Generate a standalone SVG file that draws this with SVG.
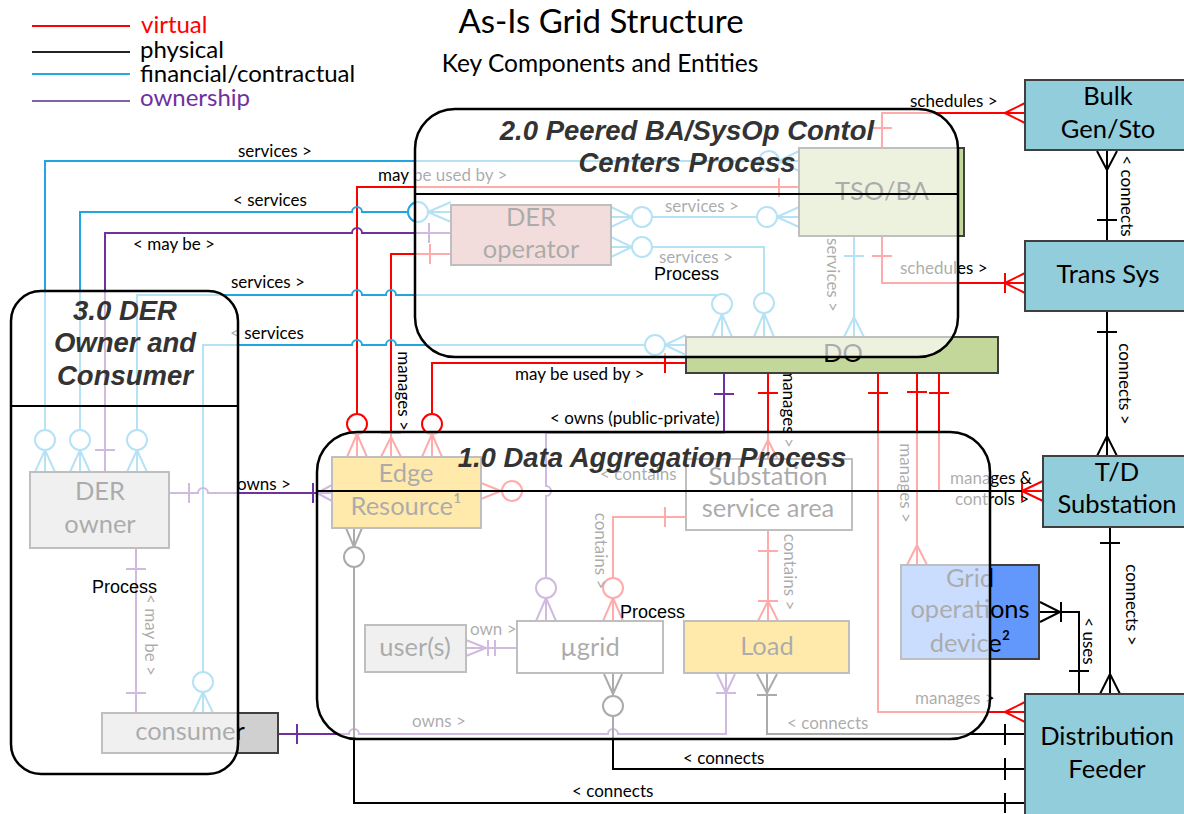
<svg xmlns="http://www.w3.org/2000/svg" width="1184" height="814" viewBox="0 0 1184 814">
<defs><style>
text{font-family:Lato,"Liberation Sans",sans-serif}
.r{stroke:#f00;fill:none;stroke-width:2}
.b{stroke:#22a6df;fill:none;stroke-width:2}
.p{stroke:#7030a0;fill:none;stroke-width:2}
.k{stroke:#000;fill:none;stroke-width:2}
.c{fill:#fff}
.lbl{font-size:17px;fill:#000}
.mid{text-anchor:middle}
.node{stroke:#3f3f3f;stroke-width:2}
.nt{font-size:25.5px;fill:#000;text-anchor:middle}
.proc{fill:#fff;fill-opacity:.67;stroke:#000;stroke-width:2.5}
.pt{font-family:"Liberation Sans",Arial,sans-serif;font-weight:bold;font-style:italic;font-size:27.5px;fill:#333;text-anchor:middle}
.sep{stroke:#000;stroke-width:2}
.pl{font-family:"Liberation Sans",Arial,sans-serif;font-size:18px;fill:#000}
.lg{font-size:24px}
</style></defs>
<rect width="1184" height="814" fill="#fff"/>

<g id="legend">
<line x1="32" y1="26" x2="130" y2="26" stroke="#f00" stroke-width="2"/>
<line x1="32" y1="52" x2="130" y2="52" stroke="#222" stroke-width="2"/>
<line x1="32" y1="74" x2="130" y2="74" stroke="#29a8e0" stroke-width="2"/>
<line x1="32" y1="101" x2="130" y2="101" stroke="#8064a2" stroke-width="2"/>
<text class="lg" x="141" y="33" fill="#f00">virtual</text>
<text class="lg" x="140" y="58" fill="#000">physical</text>
<text class="lg" x="140" y="82" fill="#000">financial/contractual</text>
<text class="lg" x="140" y="106" fill="#7030a0">ownership</text>
</g>
<g id="title">
<text x="601" y="33" font-size="33" class="mid" fill="#000">As-Is Grid Structure</text>
<text x="600" y="72" font-size="24.5" class="mid" fill="#000">Key Components and Entities</text>
</g>

<g id="connectors">
<!-- red / virtual -->
<path class="r" d="M357,414 V187 H799 M779,178 V197 M357,434 L347,457 M357,434 V457 M357,434 L367,457"/>
<circle class="r c" cx="357" cy="424" r="10"/>
<path class="r" d="M451,254 H391 V457 M430,244 V264 M381,433 H401 M391,437 L381,457 M391,437 L401,457"/>
<path class="r" d="M686,363 H432 V414 M665,353 V373 M432,434 L422,457 M432,434 V457 M432,434 L442,457"/>
<circle class="r c" cx="432" cy="424" r="10"/>
<path class="r" d="M768,374 V460 M758,393 H778 M768,440 L758,460 M768,440 L778,460"/>
<path class="r" d="M917,374 V565 M907,392 H927 M917,545 L907,565 M917,545 L927,565"/>
<path class="r" d="M878,374 V712 H1025 M868,393 H888 M1005,712 L1025,702 M1005,712 L1025,722"/>
<path class="r" d="M939,374 V491 H1043 M929,393 H949 M1022,481 V501 M1022,491 L1043,481 M1022,491 L1043,501"/>
<path class="r" d="M481,483 L501,491 L481,499 M481,491 H502 M522,491 H939"/>
<circle class="r c" cx="512" cy="491" r="10"/>
<path class="r" d="M882,148 V113 H1025 M872,128 H892 M1005,113 L1025,103 M1005,113 L1025,123"/>
<path class="r" d="M882,236 V283 H1025 M872,256 H892 M1005,273 V293 M1005,283 L1025,273 M1005,283 L1025,293"/>
<path class="r" d="M686,517 H613 V578 M665,507 V527 M613,598 L603,621 M613,598 V621 M613,598 L623,621"/>
<circle class="r c" cx="613" cy="588" r="10"/>
<path class="r" d="M768,530 V621 M758,551 H778 M758,601 H778 M768,601 L758,621 M768,601 L778,621"/>

<!-- blue / financial -->
<path class="b" d="M45,430 V161 H759 M779,161 L799,151 M779,161 H799 M779,161 L799,171 M45,450 L35,472 M45,450 V472 M45,450 L55,472"/>
<circle class="b c" cx="769" cy="161" r="10"/>
<circle class="b c" cx="45" cy="440" r="10"/>
<path class="b" d="M80,430 V212 H352 a5,5 0 0 1 10,0 H408 M428,212 L451,202 M428,212 H451 M428,212 L451,222 M80,450 L70,472 M80,450 V472 M80,450 L90,472"/>
<circle class="b c" cx="418" cy="212" r="10"/>
<circle class="b c" cx="80" cy="440" r="10"/>
<path class="b" d="M137,430 V295 H352 a5,5 0 0 1 10,0 H386 a5,5 0 0 1 10,0 H722 V294 M722,314 L712,337 M722,314 V337 M722,314 L732,337 M137,450 L127,472 M137,450 V472 M137,450 L147,472"/>
<circle class="b c" cx="722" cy="304" r="10"/>
<circle class="b c" cx="137" cy="440" r="10"/>
<path class="b" d="M203,672 V345 H352 a5,5 0 0 1 10,0 H386 a5,5 0 0 1 10,0 H645 M665,345 L686,335 M665,345 H686 M665,345 L686,355 M203,692 L193,713 M203,692 V713 M203,692 L213,713"/>
<circle class="b c" cx="655" cy="345" r="10"/>
<circle class="b c" cx="203" cy="682" r="10"/>
<path class="b" d="M611,207 L632,217 L611,227 M611,217 H632 M652,217 H757 M777,217 L799,207 M777,217 H799 M777,217 L799,227"/>
<circle class="b c" cx="642" cy="217" r="10"/>
<circle class="b c" cx="767" cy="217" r="10"/>
<path class="b" d="M611,237 L632,247 L611,257 M611,247 H632 M652,247 H764 V293 M764,313 L754,337 M764,313 V337 M764,313 L774,337"/>
<circle class="b c" cx="642" cy="247" r="10"/>
<circle class="b c" cx="764" cy="303" r="10"/>
<path class="b" d="M854,236 V337 M844,256 H864 M854,317 L844,337 M854,317 L864,337"/>

<!-- purple / ownership -->
<path class="p" d="M105,472 V233 H352 a5,5 0 0 1 10,0 H451 M95,450 H115 M429,223 V243"/>
<path class="p" d="M170,493 H198 a5,5 0 0 1 10,0 H332 M189,483 V503 M313,483 V503 M317,493 L332,485 M317,493 L332,501"/>
<path class="p" d="M136,548 V713 M126,569 H146 M126,693 H146"/>
<path class="p" d="M278,734 H349 a5,5 0 0 1 10,0 H608 a5,5 0 0 1 10,0 H726 V674 M297,724 V744 M716,693 H736 M726,693 L717,674 M726,693 L735,674"/>
<path class="p" d="M724,374 V433 H546 V486 a5,5 0 0 1 0,10 V578 M714,394 H734 M546,598 L536,621 M546,598 V621 M546,598 L556,621"/>
<circle class="p c" cx="546" cy="588" r="10"/>
<path class="p" d="M466,648 H517 M466,640 L486,648 L466,656 M488,640 V656 M495,640 V656"/>

<!-- black / physical -->
<path class="k" d="M1107,150 V241 M1097,151 L1107,170 L1117,151 M1097,220 H1117"/>
<path class="k" d="M1107,311 V456 M1097,332 H1117 M1097,456 L1107,436 L1117,456"/>
<path class="k" d="M1110,527 V694 M1100,543 H1120 M1100,694 L1110,674 L1120,694"/>
<path class="k" d="M1040,612 H1079 V694 M1040,602 L1060,612 L1040,622 M1061,602 V622 M1069,671 H1089"/>
<path class="k" d="M767,674 V734 H1025 M757,674 L767,693 L777,674 M757,695 H777 M1005,724 V745"/>
<path class="k" d="M604,674 L613,694 L622,674 M613,674 V696 M613,716 V769 H1025 M1005,758 V780"/>
<circle class="k c" cx="613" cy="706" r="10"/>
<path class="k" d="M346,528 L354,547 L362,528 M354,528 V547 M354,567 V803 H1025 M1005,793 V813"/>
<circle class="k c" cx="354" cy="557" r="10"/>

<!-- connector labels -->
<text class="lbl" x="238" y="157">services &gt;</text>
<text class="lbl" x="378" y="181">may be used by &gt;</text>
<text class="lbl" x="233" y="206">&lt; services</text>
<text class="lbl" x="133" y="250">&lt; may be &gt;</text>
<text class="lbl" x="231" y="288">services &gt;</text>
<text class="lbl" x="230" y="339">&lt; services</text>
<text class="lbl" x="665" y="212">services &gt;</text>
<text class="lbl" x="659" y="263">services &gt;</text>
<text class="lbl mid" transform="translate(827,275) rotate(90)">services &gt;</text>
<text class="lbl" x="910" y="107">schedules &gt;</text>
<text class="lbl" x="900" y="274">schedules &gt;</text>
<text class="lbl" x="515" y="380">may be used by &gt;</text>
<text class="lbl mid" transform="translate(398,391) rotate(90)">manages &gt;</text>
<text class="lbl" x="550" y="424">&lt; owns (public-private)</text>
<text class="lbl mid" transform="translate(783,408) rotate(90)">manages &gt;</text>
<text class="lbl mid" transform="translate(900,483) rotate(90)">manages &gt;</text>
<text class="lbl" x="950" y="484">manages &amp;</text>
<text class="lbl" x="955" y="505">controls &gt;</text>
<text class="lbl" x="600" y="480">&lt; contains</text>
<text class="lbl mid" transform="translate(595,551) rotate(90)">contains &gt;</text>
<text class="lbl mid" transform="translate(784,572) rotate(90)">contains &gt;</text>
<text class="lbl" x="470" y="635">own &gt;</text>
<text class="lbl" x="412" y="727">owns &gt;</text>
<text class="lbl" x="787" y="729">&lt; connects</text>
<text class="lbl" x="683" y="764">&lt; connects</text>
<text class="lbl" x="572" y="797">&lt; connects</text>
<text class="lbl" x="237" y="490">owns &gt;</text>
<text class="lbl mid" transform="translate(145,635) rotate(90)">&lt; may be &gt;</text>
<text class="lbl" x="915" y="704">manages &gt;</text>
<text class="lbl mid" transform="translate(1083,641) rotate(90)">&lt; uses</text>
<text class="lbl mid" transform="translate(1121,196) rotate(90)">&lt; connects</text>
<text class="lbl mid" transform="translate(1119,384) rotate(90)">connects &gt;</text>
<text class="lbl mid" transform="translate(1126,605) rotate(90)">connects &gt;</text>
</g>

<g id="n-bulk"><rect class="node" x="1025" y="80" width="170" height="70" fill="#92cddc"/><text class="nt" x="1108" y="105">Bulk</text><text class="nt" x="1108" y="138">Gen/Sto</text></g>
<g id="n-trans"><rect class="node" x="1025" y="241" width="170" height="70" fill="#92cddc"/><text class="nt" x="1108" y="283">Trans Sys</text></g>
<g id="n-td"><rect class="node" x="1043" y="456" width="150" height="71" fill="#92cddc"/><text class="nt" x="1117" y="481">T/D</text><text class="nt" x="1117" y="513">Substation</text></g>
<g id="n-df"><rect class="node" x="1025" y="694" width="170" height="130" fill="#92cddc"/><text class="nt" x="1107" y="745">Distribution</text><text class="nt" x="1107" y="778">Feeder</text></g>
<g id="n-tso"><rect class="node" x="799" y="148" width="165" height="88" fill="#c4d79b"/><text class="nt" x="882" y="200">TSO/BA</text></g>
<g id="n-do"><rect class="node" x="686" y="337" width="312" height="36" fill="#c4d79b"/><text class="nt" x="843" y="362">DO</text></g>
<g id="n-deroperator"><rect class="node" x="451" y="205" width="160" height="60" fill="#d99694"/><text class="nt" x="531" y="226">DER</text><text class="nt" x="531" y="258">operator</text></g>
<g id="n-edge"><rect class="node" x="332" y="457" width="149" height="71" fill="#ffc000"/><text class="nt" x="406" y="482">Edge</text><text class="nt" x="406" y="515">Resource¹</text></g>
<g id="n-substation"><rect class="node" x="686" y="459" width="166" height="71" fill="#fff"/><text class="nt" x="768" y="485">Substation</text><text class="nt" x="768" y="517">service area</text></g>
<g id="n-users"><rect class="node" x="365" y="625" width="101" height="47" fill="#d0d0d0"/><text class="nt" x="415" y="656">user(s)</text></g>
<g id="n-ugrid"><rect class="node" x="517" y="621" width="146" height="52" fill="#fff"/><text class="nt" x="590" y="656">µgrid</text></g>
<g id="n-load"><rect class="node" x="684" y="621" width="165" height="52" fill="#ffc000"/><text class="nt" x="767" y="655">Load</text></g>
<g id="n-gridops"><rect class="node" x="901" y="565" width="138" height="94" fill="#6297fc"/><text class="nt" x="970" y="587">Grid</text><text class="nt" x="970" y="618">operations</text><text class="nt" x="970" y="652">device²</text></g>
<g id="n-derowner"><rect class="node" x="30" y="472" width="139" height="76" fill="#d0d0d0"/><text class="nt" x="100" y="500">DER</text><text class="nt" x="100" y="533">owner</text></g>
<g id="n-consumer"><rect class="node" x="102" y="713" width="176" height="40" fill="#d0d0d0"/><text class="nt" x="190" y="740">consumer</text></g>

<g id="p2">
<rect class="proc" x="415" y="109" width="543" height="248" rx="40"/>
<line class="sep" x1="415" y1="194" x2="958" y2="194"/>
<text class="pt" x="687" y="140">2.0 Peered BA/SysOp Contol</text>
<text class="pt" x="687" y="172">Centers Process</text>
<text class="pl" x="654" y="280">Process</text>
</g>
<g id="p3">
<rect class="proc" x="11" y="291" width="227" height="483" rx="30"/>
<line class="sep" x1="11" y1="406" x2="238" y2="406"/>
<text class="pt" x="125" y="320">3.0 DER</text>
<text class="pt" x="125" y="352">Owner and</text>
<text class="pt" x="125" y="385">Consumer</text>
<text class="pl" x="92" y="593">Process</text>
</g>
<g id="p1">
<rect class="proc" x="317" y="432" width="673" height="307" rx="40"/>
<line class="sep" x1="317" y1="491" x2="1022" y2="491"/>
<text class="pt" x="652" y="467">1.0 Data Aggregation Process</text>
<text class="pl" x="620" y="618">Process</text>
</g>
</svg>
